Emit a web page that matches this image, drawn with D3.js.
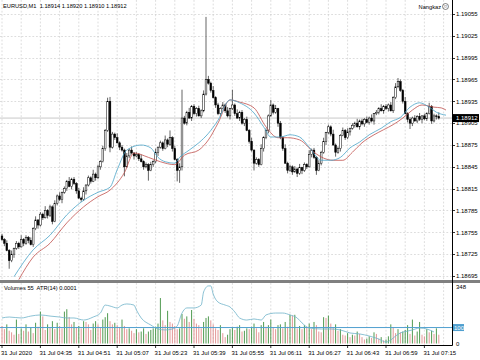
<!DOCTYPE html>
<html><head><meta charset="utf-8">
<script src="https://cdn.jsdelivr.net/npm/d3@7"></script>
<style>html,body{margin:0;padding:0;background:#fff;} svg{display:block;} text{font-family:Tahoma,"Liberation Sans",Arial,sans-serif;}</style>
</head><body><svg id="c" width="480" height="360"></svg>
<script>
const opens=[1.18750,1.18745,1.18740,1.18730,1.18716,1.18725,1.18733,1.18740,1.18735,1.18745,
1.18740,1.18748,1.18744,1.18738,1.18760,1.18772,1.18765,1.18780,1.18775,1.18785,
1.18778,1.18790,1.18770,1.18795,1.18805,1.18800,1.18810,1.18815,1.18825,1.18818,
1.18828,1.18822,1.18812,1.18802,1.18800,1.18812,1.18820,1.18830,1.18825,1.18835,
1.18830,1.18845,1.18852,1.18870,1.18895,1.18935,1.18872,1.18890,1.18885,1.18878,
1.18872,1.18868,1.18845,1.18860,1.18868,1.18864,1.18860,1.18862,1.18856,1.18852,
1.18845,1.18848,1.18840,1.18848,1.18852,1.18865,1.18872,1.18878,1.18870,1.18882,
1.18876,1.18885,1.18870,1.18855,1.18840,1.18845,1.18912,1.18905,1.18920,1.18912,
1.18928,1.18918,1.18925,1.18915,1.18922,1.18945,1.18965,1.18960,1.18950,1.18940,
1.18930,1.18918,1.18925,1.18930,1.18922,1.18915,1.18925,1.18930,1.18918,1.18912,
1.18920,1.18905,1.18910,1.18895,1.18880,1.18868,1.18850,1.18855,1.18848,1.18870,
1.18885,1.18895,1.18915,1.18930,1.18920,1.18925,1.18905,1.18885,1.18870,1.18850,
1.18840,1.18845,1.18838,1.18842,1.18836,1.18844,1.18840,1.18848,1.18845,1.18862,
1.18868,1.18858,1.18840,1.18850,1.18865,1.18880,1.18892,1.18900,1.18890,1.18875,
1.18865,1.18870,1.18888,1.18895,1.18885,1.18893,1.18898,1.18902,1.18905,1.18900,
1.18908,1.18904,1.18910,1.18906,1.18912,1.18908,1.18918,1.18920,1.18925,1.18922,
1.18928,1.18925,1.18930,1.18922,1.18940,1.18955,1.18962,1.18950,1.18935,1.18918,
1.18910,1.18905,1.18912,1.18908,1.18914,1.18910,1.18915,1.18911,1.18918,1.18928,
1.18908,1.18915,1.18914];
const highs=[1.18753,1.18747,1.18744,1.18732,1.18730,1.18734,1.18743,1.18742,1.18751,1.18747,
1.18751,1.18750,1.18748,1.18762,1.18777,1.18773,1.18783,1.18782,1.18791,1.18787,
1.18793,1.18792,1.18799,1.18807,1.18810,1.18811,1.18818,1.18827,1.18831,1.18830,
1.18831,1.18824,1.18816,1.18804,1.18817,1.18821,1.18833,1.18832,1.18841,1.18837,
1.18848,1.18854,1.18874,1.18897,1.18940,1.18941,1.18893,1.18892,1.18891,1.18880,
1.18875,1.18870,1.18864,1.18870,1.18873,1.18865,1.18865,1.18864,1.18862,1.18854,
1.18851,1.18850,1.18852,1.18854,1.18870,1.18873,1.18881,1.18880,1.18888,1.18884,
1.18895,1.18887,1.18874,1.18857,1.18850,1.18951,1.18915,1.18922,1.18926,1.18930,
1.18931,1.18927,1.18929,1.18924,1.18950,1.19051,1.18970,1.18962,1.18956,1.18942,
1.18933,1.18927,1.18934,1.18932,1.18927,1.18926,1.18951,1.18932,1.18924,1.18922,
1.18923,1.18912,1.18914,1.18897,1.18885,1.18869,1.18858,1.18857,1.18876,1.18887,
1.18898,1.18917,1.18937,1.18932,1.18930,1.18926,1.18908,1.18887,1.18876,1.18852,
1.18848,1.18847,1.18846,1.18844,1.18849,1.18845,1.18851,1.18850,1.18868,1.18870,
1.18871,1.18860,1.18854,1.18867,1.18885,1.18893,1.18903,1.18902,1.18896,1.18877,
1.18873,1.18890,1.18899,1.18897,1.18898,1.18899,1.18905,1.18907,1.18911,1.18910,
1.18911,1.18912,1.18914,1.18914,1.18917,1.18919,1.18923,1.18927,1.18931,1.18930,
1.18931,1.18932,1.18934,1.18942,1.18960,1.18967,1.18965,1.18952,1.18941,1.18920,
1.18913,1.18914,1.18916,1.18916,1.18919,1.18916,1.18918,1.18920,1.18933,1.18930,
1.18918,1.18917,1.18920];
const lows=[1.18743,1.18736,1.18729,1.18705,1.18714,1.18720,1.18731,1.18732,1.18734,1.18736,
1.18738,1.18740,1.18737,1.18735,1.18758,1.18760,1.18763,1.18772,1.18774,1.18774,
1.18776,1.18766,1.18769,1.18792,1.18798,1.18795,1.18808,1.18812,1.18817,1.18814,
1.18820,1.18808,1.18801,1.18797,1.18798,1.18807,1.18818,1.18822,1.18824,1.18826,
1.18828,1.18841,1.18851,1.18867,1.18893,1.18865,1.18870,1.18882,1.18877,1.18868,
1.18866,1.18832,1.18844,1.18857,1.18862,1.18855,1.18858,1.18853,1.18851,1.18841,
1.18843,1.18826,1.18839,1.18845,1.18850,1.18860,1.18870,1.18867,1.18869,1.18872,
1.18874,1.18866,1.18854,1.18825,1.18823,1.18840,1.18903,1.18902,1.18911,1.18908,
1.18916,1.18914,1.18914,1.18912,1.18920,1.18943,1.18958,1.18947,1.18939,1.18926,
1.18916,1.18914,1.18924,1.18919,1.18913,1.18910,1.18923,1.18915,1.18911,1.18908,
1.18903,1.18901,1.18894,1.18877,1.18866,1.18840,1.18848,1.18845,1.18847,1.18866,
1.18883,1.18891,1.18914,1.18917,1.18918,1.18900,1.18883,1.18867,1.18849,1.18836,
1.18838,1.18834,1.18837,1.18831,1.18834,1.18835,1.18838,1.18842,1.18844,1.18858,
1.18856,1.18834,1.18839,1.18847,1.18863,1.18875,1.18890,1.18887,1.18874,1.18859,
1.18863,1.18866,1.18887,1.18882,1.18883,1.18888,1.18896,1.18899,1.18899,1.18896,
1.18902,1.18900,1.18905,1.18903,1.18906,1.18903,1.18916,1.18917,1.18921,1.18918,
1.18923,1.18921,1.18921,1.18919,1.18938,1.18953,1.18948,1.18932,1.18917,1.18906,
1.18897,1.18901,1.18907,1.18905,1.18908,1.18905,1.18909,1.18908,1.18917,1.18904,
1.18906,1.18910,1.18910];
const closes=[1.18745,1.18740,1.18730,1.18716,1.18725,1.18733,1.18740,1.18735,1.18745,1.18740,
1.18748,1.18744,1.18738,1.18760,1.18772,1.18765,1.18780,1.18775,1.18785,1.18778,
1.18790,1.18770,1.18795,1.18805,1.18800,1.18810,1.18815,1.18825,1.18818,1.18828,
1.18822,1.18812,1.18802,1.18800,1.18812,1.18820,1.18830,1.18825,1.18835,1.18830,
1.18845,1.18852,1.18870,1.18895,1.18935,1.18872,1.18890,1.18885,1.18878,1.18872,
1.18868,1.18845,1.18860,1.18868,1.18864,1.18860,1.18862,1.18856,1.18852,1.18845,
1.18848,1.18840,1.18848,1.18852,1.18865,1.18872,1.18878,1.18870,1.18882,1.18876,
1.18885,1.18870,1.18855,1.18840,1.18845,1.18912,1.18905,1.18920,1.18912,1.18928,
1.18918,1.18925,1.18915,1.18922,1.18945,1.18965,1.18960,1.18950,1.18940,1.18930,
1.18918,1.18925,1.18930,1.18922,1.18915,1.18925,1.18930,1.18918,1.18912,1.18920,
1.18905,1.18910,1.18895,1.18880,1.18868,1.18850,1.18855,1.18848,1.18870,1.18885,
1.18895,1.18915,1.18930,1.18920,1.18925,1.18905,1.18885,1.18870,1.18850,1.18840,
1.18845,1.18838,1.18842,1.18836,1.18844,1.18840,1.18848,1.18845,1.18862,1.18868,
1.18858,1.18840,1.18850,1.18865,1.18880,1.18892,1.18900,1.18890,1.18875,1.18865,
1.18870,1.18888,1.18895,1.18885,1.18893,1.18898,1.18902,1.18905,1.18900,1.18908,
1.18904,1.18910,1.18906,1.18912,1.18908,1.18918,1.18920,1.18925,1.18922,1.18928,
1.18925,1.18930,1.18922,1.18940,1.18955,1.18962,1.18950,1.18935,1.18918,1.18910,
1.18905,1.18912,1.18908,1.18914,1.18910,1.18915,1.18911,1.18918,1.18928,1.18908,
1.18915,1.18914,1.18912];
const volumes=[110,90,120,80,70,55,150,60,95,80,
120,75,100,65,130,105,200,170,85,120,
100,140,90,130,110,95,200,215,165,120,
135,100,110,95,140,135,120,85,125,140,
120,100,150,165,190,140,120,130,115,100,
150,110,90,95,80,65,90,70,75,95,
60,75,85,95,105,125,285,145,115,205,
135,125,110,90,95,185,155,170,135,210,
155,125,115,95,135,160,170,145,120,95,
85,115,65,40,55,90,100,85,105,115,
75,80,95,90,105,125,95,70,115,135,
105,115,150,100,90,115,120,95,135,105,
180,175,180,95,110,90,115,105,125,90,
135,115,75,70,165,160,175,125,100,120,
80,90,55,50,65,40,55,50,75,60,
40,25,30,45,35,70,60,30,40,20,
25,45,120,100,65,90,70,75,85,115,
60,150,50,75,135,55,45,90,70,80,
60,95,55];
const maFastIdx=[5,13,20,27,34,40,45,48,52,58,62,65,68,72,74,78,82,86,90,95,99,105,109,112,116,120,124,128,133,137,141,145,149,153,158,162,166,170,174,178,181,185];
const maFast=[1.18694,1.18731,1.18751,1.18779,1.18799,1.18810,1.18817,1.18841,1.18868,1.18875,1.18871,1.18858,1.18852,1.18850,1.18858,1.18868,1.18878,1.18891,1.18909,1.18937,1.18933,1.18919,1.18900,1.18886,1.18886,1.18889,1.18886,1.18872,1.18854,1.18854,1.18858,1.18871,1.18879,1.18889,1.18898,1.18907,1.18913,1.18927,1.18933,1.18927,1.18920,1.18916];
const maSlowIdx=[7,13,20,27,34,40,45,51,55,61,66,72,76,82,86,90,95,99,105,110,115,119,124,130,134,138,142,146,150,155,159,163,167,171,175,180,183,185];
const maSlow=[1.18690,1.18721,1.18740,1.18768,1.18790,1.18804,1.18813,1.18837,1.18864,1.18858,1.18852,1.18848,1.18861,1.18868,1.18882,1.18905,1.18937,1.18934,1.18926,1.18900,1.18885,1.18885,1.18882,1.18865,1.18857,1.18854,1.18854,1.18865,1.18878,1.18889,1.18896,1.18903,1.18912,1.18923,1.18930,1.18927,1.18926,1.18923];
const atrIdx=[0,3,8,12,16,20,24,27,30,34,38,41,43,45,48,50,52,55,56,58,62,65,68,71,73,75,77,80,83,84,86,87,88,90,93,95,97,99,102,105,108,110,114,117,120,123,125,128,133,137,141,145,149,153,157,160,162,164,166,169,171,174,177,180];
const atrVals=[0.000160,0.000166,0.000160,0.000172,0.000179,0.000172,0.000166,0.000160,0.000160,0.000147,0.000166,0.000191,0.000241,0.000235,0.000223,0.000241,0.000248,0.000241,0.000210,0.000160,0.000116,0.000091,0.000085,0.000091,0.000110,0.000191,0.000223,0.000223,0.000241,0.000323,0.000361,0.000361,0.000310,0.000260,0.000241,0.000229,0.000198,0.000160,0.000147,0.000154,0.000147,0.000179,0.000191,0.000191,0.000179,0.000160,0.000129,0.000097,0.000091,0.000091,0.000085,0.000066,0.000060,0.000047,0.000028,0.000009,0.000022,0.000047,0.000066,0.000078,0.000085,0.000097,0.000091,0.000072];
const priceTicks=[1.19055,1.19025,1.18995,1.18965,1.18935,1.18905,1.18875,1.18845,1.18815,1.18785,1.18755,1.18725,1.18695];
const timeLabelIdx=[0,16,32,48,64,80,96,112,128,144,160,176];
const timeLabels=["31 Jul 2020","31 Jul 04:35","31 Jul 04:51","31 Jul 05:07","31 Jul 05:23","31 Jul 05:39","31 Jul 05:55","31 Jul 06:11","31 Jul 06:27","31 Jul 06:43","31 Jul 06:59","31 Jul 07:15"];
const volTicks=[348,100,0];
const headerText="EURUSD,M1  1.18914 1.18920 1.18910 1.18912";
const subText="Volumes 55  ATR(14) 0.0001";
const lastPrice=1.18912;
const levelValue=100;

const svg=d3.select("#c");
const RIGHT=452, MAINB=280, SUBT=283, SUBB=345;
const x=d3.scaleLinear().domain([0,182]).range([2,438.8]);
const y=d3.scaleLinear().domain([1.18695,1.19055]).range([276,14]);
const yv=d3.scaleLinear().domain([0,348]).range([343.5,288]);
const ya=d3.scaleLinear().domain([0,0.000348]).range([343.5,288]);

const defs=svg.append("defs");
defs.append("clipPath").attr("id","cm").append("rect").attr("x",0).attr("y",0).attr("width",RIGHT).attr("height",MAINB);
defs.append("clipPath").attr("id","cs").append("rect").attr("x",0).attr("y",SUBT).attr("width",RIGHT).attr("height",SUBB-SUBT);

// grid
const gridIdx=d3.range(0,185,8);
const g=svg.append("g").attr("stroke","#c6c6c6").attr("stroke-width",0.6).attr("stroke-dasharray","1.8,1.8");
g.selectAll(".hg").data(priceTicks).join("line").attr("x1",0).attr("x2",RIGHT).attr("y1",d=>Math.round(y(d))+0.5).attr("y2",d=>Math.round(y(d))+0.5);
g.selectAll(".vg").data(gridIdx).join("line").attr("x1",d=>x(d)).attr("x2",d=>x(d)).attr("y1",0).attr("y2",MAINB);
g.selectAll(".vg2").data(gridIdx).join("line").attr("x1",d=>x(d)).attr("x2",d=>x(d)).attr("y1",SUBT).attr("y2",SUBB);

// last price line
svg.append("line").attr("x1",0).attr("x2",RIGHT).attr("y1",y(lastPrice)).attr("y2",y(lastPrice)).attr("stroke","#c8c8c8").attr("stroke-width",1);

// candles
const main=svg.append("g").attr("clip-path","url(#cm)");
const idx=d3.range(closes.length);
main.selectAll(".wick").data(idx).join("line")
 .attr("x1",i=>x(i)).attr("x2",i=>x(i)).attr("y1",i=>y(highs[i])).attr("y2",i=>y(lows[i]))
 .attr("stroke","#222").attr("stroke-width",0.7);
main.selectAll(".body").data(idx).join("rect")
 .attr("x",i=>x(i)-0.85).attr("width",1.7)
 .attr("y",i=>y(Math.max(opens[i],closes[i])))
 .attr("height",i=>Math.max(0.7,Math.abs(y(opens[i])-y(closes[i]))))
 .attr("fill",i=>closes[i]>=opens[i]?"#fff":"#000")
 .attr("stroke","#000").attr("stroke-width",0.5);

// moving averages
const line=d3.line().x(d=>x(d[0])).y(d=>y(d[1])).curve(d3.curveMonotoneX);
main.append("path").attr("d",line(maSlowIdx.map((k,j)=>[k,maSlow[j]]))).attr("fill","none").attr("stroke","#c0504d").attr("stroke-width",0.8);
main.append("path").attr("d",line(maFastIdx.map((k,j)=>[k,maFast[j]]))).attr("fill","none").attr("stroke","#4aa3c8").attr("stroke-width",0.8);

// sub window
const sub=svg.append("g").attr("clip-path","url(#cs)");
sub.selectAll(".vol").data(idx).join("line")
 .attr("x1",i=>x(i)).attr("x2",i=>x(i)).attr("y1",yv(0)).attr("y2",i=>yv(volumes[i]))
 .attr("stroke",i=>(i>0&&volumes[i]>volumes[i-1])?"#3d8f3d":"#e08a8a").attr("stroke-width",0.9);
sub.append("line").attr("x1",0).attr("x2",RIGHT).attr("y1",yv(levelValue)).attr("y2",yv(levelValue)).attr("stroke","#4f9fcf").attr("stroke-width",1);
const aline=d3.line().x(d=>x(d[0])).y(d=>ya(d[1])).curve(d3.curveMonotoneX);
sub.append("path").attr("d",aline(atrIdx.map((k,j)=>[k,atrVals[j]]))).attr("fill","none").attr("stroke","#6fb3c9").attr("stroke-width",0.8);

// frame
svg.append("rect").attr("x",0).attr("y",MAINB).attr("width",RIGHT+28).attr("height",SUBT-MAINB).attr("fill","#808080");
svg.append("line").attr("x1",RIGHT+0.5).attr("x2",RIGHT+0.5).attr("y1",0).attr("y2",SUBB+0.5).attr("stroke","#000").attr("stroke-width",1);
svg.append("line").attr("x1",0).attr("x2",RIGHT+0.5).attr("y1",SUBB+0.5).attr("y2",SUBB+0.5).attr("stroke","#000").attr("stroke-width",1);

// price axis
const fs=6;
svg.selectAll(".pt").data(priceTicks).join("line").attr("x1",RIGHT).attr("x2",RIGHT+3).attr("y1",d=>Math.round(y(d))+0.5).attr("y2",d=>Math.round(y(d))+0.5).attr("stroke","#000").attr("stroke-width",0.8);
svg.selectAll(".pl").data(priceTicks).join("text").attr("x",RIGHT+4).attr("y",d=>y(d)+2.2).attr("font-size",fs).attr("fill","#000").text(d=>d.toFixed(5));
svg.append("rect").attr("x",RIGHT+1).attr("y",y(lastPrice)-4).attr("width",26).attr("height",8).attr("fill","#000");
svg.append("text").attr("x",RIGHT+4).attr("y",y(lastPrice)+2.2).attr("font-size",fs).attr("fill","#fff").text(lastPrice.toFixed(5));

// volume axis
svg.append("text").attr("x",RIGHT+4).attr("y",288.5).attr("font-size",fs).attr("fill","#000").text(String(volTicks[0]));
svg.append("rect").attr("x",RIGHT+1).attr("y",yv(levelValue)-3.5).attr("width",11).attr("height",7).attr("fill","#4f9fcf");
svg.append("text").attr("x",RIGHT+2).attr("y",yv(levelValue)+2.2).attr("font-size",fs).attr("fill","#fff").text(String(volTicks[1]));
svg.append("text").attr("x",RIGHT+4).attr("y",yv(0)+2.2).attr("font-size",fs).attr("fill","#000").text(String(volTicks[2]));

// time axis
svg.selectAll(".tt").data(timeLabelIdx).join("line").attr("x1",i=>x(i)).attr("x2",i=>x(i)).attr("y1",SUBB).attr("y2",SUBB+3).attr("stroke","#000").attr("stroke-width",0.8);
svg.selectAll(".tl").data(timeLabelIdx).join("text").attr("x",i=>x(i)-1).attr("y",355).attr("font-size",fs).attr("fill","#000").text((i,j)=>timeLabels[j]);

// header texts
svg.append("text").attr("x",3).attr("y",8).attr("font-size",5.7).attr("fill","#000").attr("xml:space","preserve").text(headerText);
svg.append("text").attr("x",4).attr("y",290).attr("font-size",5.7).attr("fill","#000").attr("xml:space","preserve").text(subText);
svg.append("text").attr("x",441).attr("y",8.5).attr("font-size",5.7).attr("fill","#000").attr("text-anchor","end").text("Nangkaz");
svg.append("circle").attr("cx",445.5).attr("cy",6.5).attr("r",3).attr("fill","none").attr("stroke","#333").attr("stroke-width",0.6);
svg.append("text").attr("x",445.5).attr("y",8.4).attr("font-size",5).attr("fill","#333").attr("text-anchor","middle").text("☺");
</script></body></html>
